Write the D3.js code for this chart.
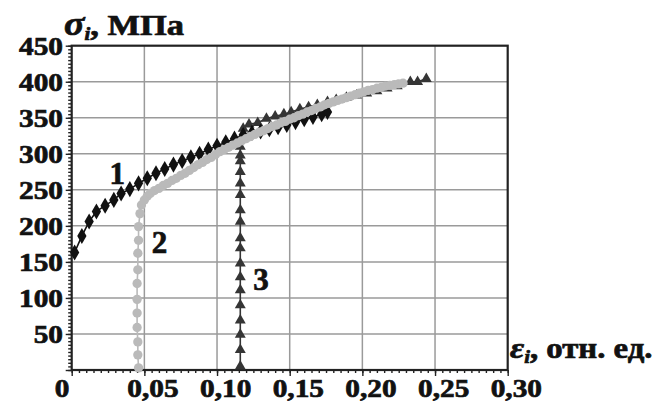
<!DOCTYPE html>
<head>
  <meta charset="utf-8">
  <script src="https://cdn.jsdelivr.net/npm/d3@7/dist/d3.min.js"></script>
  <style>
    body { margin: 0; background: #fff; }
    svg { width: 667px; height: 402px; display: block; }
    text { font-family: "Liberation Serif", "Times New Roman", serif; font-weight: bold; fill: #111; stroke: #111; stroke-width: 0.7px; }
  </style>
</head>

<body>
  <svg></svg>
  <script>
    // curve 1: black diamonds
    var strain1 = [0.002, 0.007, 0.012, 0.017, 0.023, 0.029, 0.034, 0.040, 0.046, 0.052, 0.058,
      0.064, 0.070, 0.076, 0.082, 0.088, 0.094, 0.100, 0.106, 0.112, 0.118, 0.124, 0.130,
      0.136, 0.142, 0.148, 0.154, 0.160, 0.166, 0.172, 0.176];
    var stress1 = [163, 186, 206, 220, 228, 236, 245, 251, 259, 266, 273,
      279, 285, 290, 295, 300, 306, 311, 316, 321, 326, 329, 331,
      334, 337, 340, 344, 348, 351, 355, 358];

    // curve 2: light grey circles
    var strain2 = [0.046, 0.0455, 0.0455, 0.045, 0.045, 0.045, 0.045, 0.0455, 0.0455, 0.046, 0.046,
      0.047, 0.048, 0.050, 0.052, 0.054, 0.057, 0.060, 0.063, 0.066, 0.069, 0.072, 0.075,
      0.078, 0.081, 0.084, 0.087, 0.090, 0.093, 0.096, 0.099, 0.102, 0.105, 0.108, 0.111,
      0.114, 0.117, 0.120, 0.123, 0.126, 0.129, 0.132, 0.135, 0.138, 0.141, 0.144, 0.147,
      0.150, 0.153, 0.156, 0.159, 0.162, 0.165, 0.168, 0.171, 0.174, 0.177, 0.180, 0.183,
      0.186, 0.189, 0.192, 0.195, 0.198, 0.201, 0.204, 0.207, 0.210, 0.213, 0.216, 0.219,
      0.222, 0.225, 0.228];
    var stress2 = [3, 21, 39, 59, 79, 98, 120, 139, 162, 180, 199,
      217, 229, 236, 241, 245, 249, 252, 256, 259, 263, 266, 270,
      273, 277, 281, 285, 288, 292, 295, 299, 303, 306, 309, 312,
      315, 318, 321, 324, 327, 330, 332, 335, 338, 340, 343, 345,
      348, 350, 353, 355, 358, 360, 363, 365, 368, 370, 372, 374,
      376, 378, 380, 382, 384, 386, 388, 389, 391, 392, 394, 395,
      396, 397, 398];

    // curve 3: dark grey triangles
    var strain3 = [0.116, 0.116, 0.116, 0.116, 0.116, 0.116, 0.116, 0.116, 0.116, 0.116, 0.116,
      0.116, 0.116, 0.116, 0.116, 0.116, 0.116, 0.116, 0.118, 0.122, 0.128, 0.134, 0.140,
      0.146, 0.151, 0.157, 0.163, 0.169, 0.176, 0.182, 0.189, 0.196, 0.203, 0.210, 0.217,
      0.224, 0.233, 0.238, 0.244];
    var stress3 = [5, 28, 49, 69, 90, 111, 129, 148, 169, 183, 206,
      222, 243, 259, 275, 290, 298, 310, 335, 341, 343, 349, 352,
      355, 358, 362, 365, 368, 372, 375, 378, 381, 384, 387, 391,
      394, 400, 400, 404];

    var xTicks = [0, 0.05, 0.10, 0.15, 0.20, 0.25, 0.30];
    var xTickLabels = ['0', '0,05', '0,10', '0,15', '0,20', '0,25', '0,30'];
    var yTicks = [50, 100, 150, 200, 250, 300, 350, 400, 450];

    var curveLabels = [
      { text: '1', x: 0.026, y: 258 },
      { text: '2', x: 0.055, y: 163 },
      { text: '3', x: 0.125, y: 111 }
    ];

    var svg = d3.select('svg');
    var x = d3.scaleLinear().domain([0, 0.3]).range([71.7, 507.7]);
    var y = d3.scaleLinear().domain([0, 450]).range([370, 45.7]);
    var stretch = 1.15;

    // grid
    svg.append('g').selectAll('line')
      .data(xTicks.slice(1, -1)).enter().append('line')
      .attr('x1', d => x(d)).attr('x2', d => x(d))
      .attr('y1', y(0)).attr('y2', y(450))
      .attr('stroke', '#9a9a9a').attr('stroke-width', 1.5);
    svg.append('g').selectAll('line')
      .data(yTicks.slice(0, -1)).enter().append('line')
      .attr('x1', x(0)).attr('x2', x(0.3))
      .attr('y1', d => y(d)).attr('y2', d => y(d))
      .attr('stroke', '#9a9a9a').attr('stroke-width', 1.5);

    // frame
    svg.append('rect')
      .attr('x', x(0)).attr('y', y(450))
      .attr('width', x(0.3) - x(0)).attr('height', y(0) - y(450))
      .attr('fill', 'none').attr('stroke', '#222').attr('stroke-width', 2.2);

    // axes: minor and major ticks
    function tickAxis(axis, g) {
      g.call(axis);
      g.select('.domain').remove();
      g.selectAll('text').remove();
      g.selectAll('line').attr('stroke', '#222').attr('stroke-width', 1.4);
    }
    tickAxis(d3.axisBottom(x).tickValues(d3.range(0, 61).map(i => i * 0.005)).tickSize(3),
      svg.append('g').attr('transform', 'translate(0,' + y(0) + ')'));
    tickAxis(d3.axisBottom(x).tickValues(xTicks).tickSize(6),
      svg.append('g').attr('transform', 'translate(0,' + y(0) + ')'));
    tickAxis(d3.axisLeft(y).tickValues(d3.range(0, 91).map(i => i * 5)).tickSize(3.5),
      svg.append('g').attr('transform', 'translate(' + x(0) + ',0)'));
    tickAxis(d3.axisLeft(y).tickValues([0].concat(yTicks)).tickSize(6),
      svg.append('g').attr('transform', 'translate(' + x(0) + ',0)'));

    // tick labels
    svg.append('g').selectAll('text')
      .data(xTicks).enter().append('text')
      .attr('transform', d => 'translate(' + (x(d) - 17) + ',396.5)scale(' + stretch + ',1)')
      .attr('font-size', 25.5)
      .text((d, i) => xTickLabels[i]);
    svg.append('g').selectAll('text')
      .data(yTicks).enter().append('text')
      .attr('transform', d => 'translate(63,' + (y(d) + 9.5) + ')scale(' + stretch + ',1)')
      .attr('text-anchor', 'end')
      .attr('font-size', 25.5)
      .text(d => d);

    // series (grey circles drawn last, on top)
    var series = [
      { xs: strain3, ys: stress3, color: '#353535', shape: d3.symbolTriangle, size: 52 },
      { xs: strain1, ys: stress1, color: '#111', shape: d3.symbolDiamond, size: 75 },
      { xs: strain2, ys: stress2, color: '#bababa', shape: d3.symbolCircle, size: 68 }
    ];
    var line = d3.line().x(d => x(d[0])).y(d => y(d[1]));

    series.forEach(function(s) {
      var pts = s.xs.map((v, i) => [v, s.ys[i]]);
      svg.append('path')
        .attr('d', line(pts))
        .attr('fill', 'none').attr('stroke', s.color).attr('stroke-width', 1.6);
      svg.append('g').selectAll('path')
        .data(pts).enter().append('path')
        .attr('d', d3.symbol().type(s.shape).size(s.size))
        .attr('transform', d => 'translate(' + x(d[0]) + ',' + y(d[1]) + ')')
        .attr('fill', s.color);
    });

    // curve numbers
    svg.append('g').selectAll('text')
      .data(curveLabels).enter().append('text')
      .attr('x', d => x(d.x)).attr('y', d => y(d.y))
      .attr('font-size', 31)
      .text(d => d.text);

    // axis titles
    var yt = svg.append('text')
      .attr('transform', 'translate(64,35)scale(' + stretch + ',1)')
      .attr('font-size', 30);
    yt.append('tspan').attr('font-style', 'italic').attr('font-size', 33).text('σ');
    yt.append('tspan').attr('font-style', 'italic').attr('font-size', 18).attr('dy', 5).text('i');
    yt.append('tspan').attr('dy', -5).text(', МПа');

    var xt = svg.append('text')
      .attr('transform', 'translate(510,358)scale(' + stretch + ',1)')
      .attr('font-size', 28.5);
    xt.append('tspan').attr('font-style', 'italic').attr('font-size', 30).text('ε');
    xt.append('tspan').attr('font-style', 'italic').attr('font-size', 18).attr('dy', 5).text('i');
    xt.append('tspan').attr('dy', -5).text(',  отн. ед.');
  </script>
</body>
